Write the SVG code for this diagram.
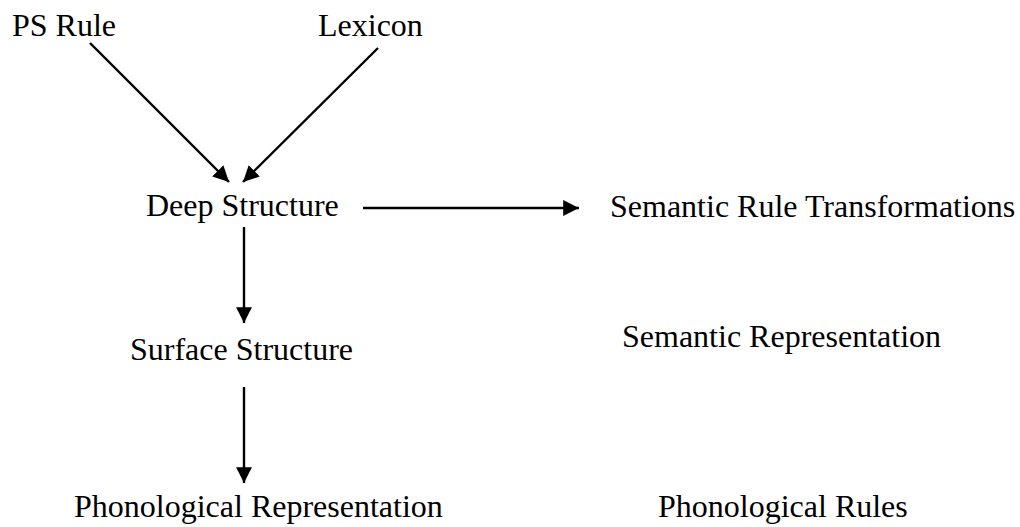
<svg xmlns="http://www.w3.org/2000/svg" width="1020" height="527" viewBox="0 0 1020 527">
  <style>
    text { font-family: "Liberation Serif", "Times New Roman", serif; font-size: 32px; fill: #000; }
    .edge { stroke: #000; stroke-width: 2.4; fill: none; marker-end: url(#arrow); }
  </style>
  <defs>
    <marker id="arrow" viewBox="0 0 10 10" refX="10" refY="5" markerWidth="6.8" markerHeight="6.6" orient="auto" markerUnits="strokeWidth">
      <path d="M0,0 L10,5 L0,10 z" fill="#000"/>
    </marker>
  </defs>
  <rect width="1020" height="527" fill="#fff"/>

  <g id="ps-rule"><text x="12" y="36">PS Rule</text></g>
  <g id="lexicon"><text x="318" y="36">Lexicon</text></g>
  <g id="deep-structure"><text x="146" y="216">Deep Structure</text></g>
  <g id="semantic-rule-transformations"><text x="610" y="217">Semantic Rule Transformations</text></g>
  <g id="surface-structure"><text x="130" y="360">Surface Structure</text></g>
  <g id="semantic-representation"><text x="622" y="347">Semantic Representation</text></g>
  <g id="phonological-representation"><text x="74" y="517">Phonological Representation</text></g>
  <g id="phonological-rules"><text x="658" y="517">Phonological Rules</text></g>

  <g id="connectors">
    <line class="edge" x1="90" y1="43" x2="229" y2="182"/>
    <line class="edge" x1="378" y1="48" x2="243" y2="182"/>
    <line class="edge" x1="363" y1="208" x2="579" y2="208"/>
    <line class="edge" x1="244" y1="227" x2="244" y2="323"/>
    <line class="edge" x1="244" y1="387" x2="244" y2="483"/>
  </g>
</svg>
